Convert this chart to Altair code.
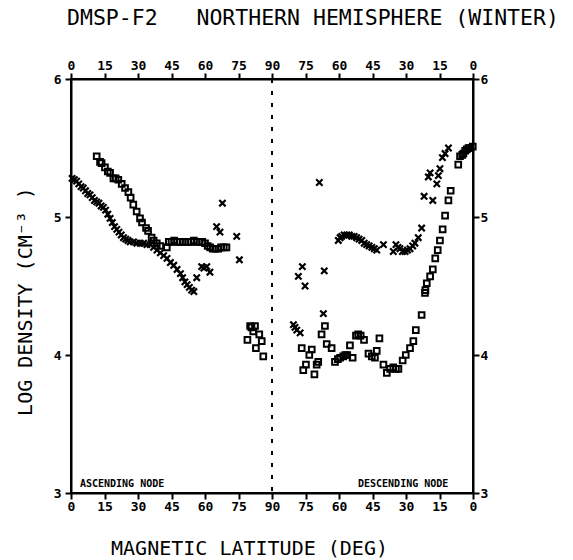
import altair as alt
import pandas as pd

# ---- data (x = position along pass: 0..90 ascending, 90..180 descending) ----
asc_cross_x = [0.5, 1.5, 2.5, 3.5, 4.5, 5.5, 6.5, 7.5, 8.5, 9.5, 10.5, 11.5, 12.5, 13.5, 14.5, 15.5,
               16.5, 17.5, 18.5, 19.5, 20.5, 21.5, 22.5, 23.5, 24.5, 25.5, 26.5, 28, 29.5, 31, 32.5,
               34, 35.5, 37, 38.5, 40, 41.5, 43, 44.5, 46, 47.5, 49, 50, 51, 52, 53, 54, 55,
               56.3, 58.5, 59.5, 60.8, 62.2, 65.2, 66.7, 67.8, 74.2, 75.4]
asc_cross_y = [5.28, 5.27, 5.26, 5.24, 5.22, 5.21, 5.19, 5.17, 5.16, 5.14, 5.12, 5.11, 5.10, 5.08, 5.07, 5.05,
               5.02, 4.99, 4.96, 4.93, 4.91, 4.89, 4.87, 4.85, 4.84, 4.83, 4.82, 4.82, 4.81, 4.81, 4.81,
               4.80, 4.80, 4.78, 4.76, 4.74, 4.72, 4.70, 4.67, 4.65, 4.62, 4.59, 4.56, 4.53, 4.51, 4.49, 4.47, 4.46,
               4.56, 4.64, 4.63, 4.64, 4.60, 4.93, 4.89, 5.10, 4.86, 4.69]

asc_sq_x = [11.5, 13, 13.7, 15.2, 16.5, 17.5, 19, 20, 21.2, 22.7, 24.2, 25.7, 26.7, 27.9, 29.4, 30.9,
            31.8, 33.6, 34.5, 36.1, 37, 38.4, 40, 42.9, 43.8, 45, 46.2, 47.5, 48.8, 50, 51.2, 52.5,
            53.8, 55, 56.2, 57.5, 58.8, 60, 61.2, 62.3, 63.5, 64.7, 66, 67.2, 68.4, 69.6,
            79.0, 80.2, 80.8, 81.6, 82.4, 82.8, 84.3, 85.4, 86.1]
asc_sq_y = [5.44, 5.40, 5.39, 5.36, 5.33, 5.32, 5.28, 5.28, 5.27, 5.24, 5.21, 5.18, 5.14, 5.09, 5.04, 4.99,
            4.96, 4.92, 4.90, 4.85, 4.83, 4.81, 4.79, 4.78, 4.82, 4.82, 4.83, 4.82, 4.82, 4.82, 4.82, 4.82,
            4.82, 4.83, 4.82, 4.82, 4.82, 4.81, 4.79, 4.78, 4.77, 4.77, 4.77, 4.78, 4.78, 4.78,
            4.11, 4.21, 4.20, 4.17, 4.21, 4.05, 4.15, 4.10, 3.99]

desc_cross_x = [99.6, 100.3, 101.1, 102.6, 101.8, 103.6, 104.8, 111.2, 113.0, 113.4,
                119.7, 120.5, 121.2, 122.3, 123.5, 124.6, 125.7, 126.8, 127.9, 129, 130.2, 131.3,
                132.4, 133.5, 134.7, 135.8, 136.9, 139.9, 144.3, 145.5, 146.4, 147.3, 148.4, 149.6,
                150.7, 151.8, 153, 154, 155.5, 157, 158.1, 160, 160.8, 162, 163.8, 164.5, 165.2,
                166.3, 167.5, 169]
desc_cross_y = [4.22, 4.20, 4.18, 4.16, 4.57, 4.64, 4.50, 5.25, 4.30, 4.61,
                4.83, 4.85, 4.86, 4.87, 4.87, 4.87, 4.86, 4.86, 4.85, 4.84, 4.83, 4.81,
                4.80, 4.79, 4.78, 4.77, 4.76, 4.80, 4.75, 4.80, 4.78, 4.77, 4.75, 4.75,
                4.76, 4.77, 4.79, 4.81, 4.85, 4.92, 5.15, 5.29, 5.32, 5.12, 5.24, 5.30, 5.35,
                5.43, 5.46, 5.50]

desc_sq_x = [103.3, 104.0, 105.2, 106.7, 107.8, 109.0, 110.0, 110.7, 112.2, 113.7, 114.5, 116.7,
             118.2, 119.5, 120.5, 121.9, 122.8, 123.7, 124.9, 126.1, 127.6, 128.6, 129.7, 131.2,
             133.2, 134.7, 136.1, 136.9, 138.1, 139.9, 141.4, 142.9, 144.3, 145.5, 146.6, 148.5,
             149.9, 151.8, 153.3, 154.4, 157.0, 158.5, 158.7, 159.3, 160.8, 162.0, 163.1, 164.2,
             165.2, 166.4, 167.5, 169.0, 170.0, 173.4, 174.2, 175.2, 175.7, 176.5, 177.2, 178.0,
             178.7, 179.9]
desc_sq_y = [4.05, 3.89, 3.93, 4.00, 4.04, 3.86, 3.93, 3.95, 4.15, 4.21, 4.08, 4.05,
             3.95, 3.97, 3.98, 3.99, 4.00, 4.00, 4.07, 3.98, 4.14, 4.15, 4.14, 4.11,
             4.01, 3.99, 3.98, 4.03, 4.12, 3.93, 3.87, 3.90, 3.91, 3.90, 3.90, 3.96,
             4.00, 4.05, 4.10, 4.18, 4.29, 4.45, 4.47, 4.52, 4.57, 4.62, 4.70, 4.76,
             4.83, 4.91, 5.01, 5.12, 5.19, 5.38, 5.44, 5.45, 5.46, 5.48, 5.49, 5.50,
             5.50, 5.51]

x_ticks = [0, 15, 30, 45, 60, 75, 90, 105, 120, 135, 150, 165, 180]
x_tick_labels = ["0", "15", "30", "45", "60", "75", "90", "75", "60", "45", "30", "15", "0"]
y_ticks = [3, 4, 5, 6]
divider_x = [90]
node_labels = ["ASCENDING NODE", "DESCENDING NODE"]
node_x = [4, 128.5]
node_y = [3.04, 3.04]

FONT = "DejaVu Sans Mono"

crosses = pd.DataFrame({"x": asc_cross_x + desc_cross_x, "y": asc_cross_y + desc_cross_y})
squares = pd.DataFrame({"x": asc_sq_x + desc_sq_x, "y": asc_sq_y + desc_sq_y})
divider = pd.DataFrame({"x": divider_x})
nodes = pd.DataFrame({"label": node_labels, "x": node_x, "y": node_y})

label_expr = "[" + ",".join(f"'{l}'" for l in x_tick_labels) + "][indexof(" + \
             "[" + ",".join(str(t) for t in x_ticks) + "], datum.value)]"

xscale = alt.Scale(domain=[0, 180], nice=False, zero=False)
yscale = alt.Scale(domain=[3, 6], nice=False, zero=False)

axis_common = dict(
    domainColor="black", domainWidth=2, tickColor="black", tickWidth=2, tickSize=6,
    labelFont=FONT, labelFontSize=13, labelFontWeight="bold", labelColor="black",
    grid=False, titleFont=FONT, titleFontWeight="normal", titleColor="black",
)

x_bottom = alt.Axis(orient="bottom", values=x_ticks, labelExpr=label_expr, labelPadding=1,
                    title="MAGNETIC LATITUDE (DEG)", titleFontSize=20, titleX=178, titleY=55,
                    titleBaseline="middle", titleAlign="center", labelFlush=False, **axis_common)
y_left = alt.Axis(orient="left", values=y_ticks, format="d", labelPadding=4,
                  title="LOG DENSITY (CM⁻³ )", titleFontSize=20, titleX=-46, titleY=222,
                  titleAngle=-90, titleBaseline="middle", titleAlign="center", **axis_common)
x_top = alt.Axis(orient="top", values=x_ticks, labelExpr=label_expr, labelPadding=1,
                 title="", labelFlush=False, **axis_common)
y_right = alt.Axis(orient="right", values=y_ticks, format="d", labelPadding=1, title="",
                   **axis_common)

sq_layer = alt.Chart(squares).mark_point(
    shape="square", filled=False, size=32, strokeWidth=2, color="black", opacity=1
).encode(
    x=alt.X("x:Q", scale=xscale, axis=x_bottom),
    y=alt.Y("y:Q", scale=yscale, axis=y_left),
)

cross_layer = alt.Chart(crosses).mark_point(
    shape="M-1,-1L1,1M1,-1L-1,1", filled=False, size=40, strokeWidth=2.2, color="black", opacity=1
).encode(
    x=alt.X("x:Q", scale=xscale, axis=x_top),
    y=alt.Y("y:Q", scale=yscale, axis=y_right),
)

rule_layer = alt.Chart(divider).mark_rule(
    color="black", strokeWidth=2, strokeDash=[4, 8]
).encode(x=alt.X("x:Q", scale=xscale, axis=None))

text_layer = alt.Chart(nodes).mark_text(
    font=FONT, fontSize=10, fontWeight="bold", align="left", baseline="alphabetic", color="black"
).encode(
    x=alt.X("x:Q", scale=xscale, axis=None),
    y=alt.Y("y:Q", scale=yscale, axis=None),
    text="label:N",
)

chart = alt.layer(sq_layer, cross_layer, rule_layer, text_layer).resolve_axis(
    x="independent", y="independent"
).properties(
    width=402, height=414,
    padding={"left": 71, "top": 79, "right": 100, "bottom": 67},
    autosize=alt.AutoSizeParams(type="none"),
    background="white",
    title=alt.TitleParams(
        "DMSP-F2\u00a0\u00a0\u00a0NORTHERN HEMISPHERE (WINTER)",
        font=FONT, fontSize=21.5, fontWeight="normal", color="black",
        anchor="start", frame="group", dx=-4, offset=30,
    ),
).configure_view(stroke="black", strokeWidth=2)

chart.save("out.html", embed_options={"renderer": "svg", "actions": False})
